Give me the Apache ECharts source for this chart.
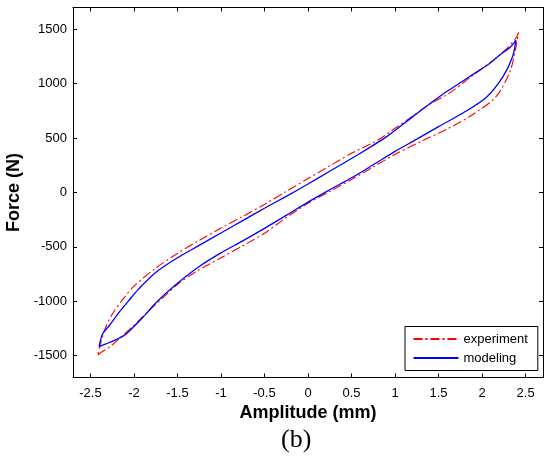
<!DOCTYPE html>
<html>
<head>
<meta charset="utf-8">
<script src="https://cdn.jsdelivr.net/npm/echarts@6/dist/echarts.min.js"></script>
<style>
html,body{margin:0;padding:0;background:#fff;}
#chart{width:544px;height:463px;}
</style>
</head>
<body>
<div id="chart"></div>
<script>
// Tick labels
const xTicks = [-2.5, -2, -1.5, -1, -0.5, 0, 0.5, 1, 1.5, 2, 2.5];
const yTicks = [-1500, -1000, -500, 0, 500, 1000, 1500];
const seriesNames = ['experiment', 'modeling'];

// Experiment loop: upper branch (right tip -> left tip), lower branch (left tip -> right tip)
const expUpper = [
  [2.42,1470],[2.39,1420],[2.30,1335],[2.15,1230],[1.86,1055],[1.60,900],[1.40,815],
  [1.20,700],[1.00,590],[0.80,480],[0.50,360],[0.25,245],[0,128],[-0.25,10],[-0.50,-110],
  [-0.75,-220],[-1.00,-327],[-1.25,-440],[-1.50,-560],[-1.75,-695],[-2.00,-860],
  [-2.13,-985],[-2.25,-1120],[-2.33,-1250],[-2.38,-1380],[-2.42,-1499]
];
const expLower = [
  [-2.42,-1499],[-2.38,-1470],[-2.28,-1420],[-2.15,-1330],[-2.00,-1220],[-1.82,-1080],
  [-1.65,-955],[-1.50,-845],[-1.25,-710],[-1.00,-600],[-0.75,-490],[-0.50,-375],
  [-0.25,-230],[0,-100],[0.25,10],[0.50,120],[0.75,235],[1.00,350],[1.30,470],
  [1.59,580],[1.89,715],[2.16,880],[2.32,1110],[2.38,1300],[2.42,1470]
];

// Modeling loop
const modelUpper = [
  [2.39,1400],[2.33,1340],[2.20,1262],[2.09,1187],[1.85,1062],[1.59,925],[1.40,815],
  [1.20,695],[0.90,511],[0.50,312],[0.25,195],[0,78],[-0.25,-35],[-0.50,-145],
  [-0.75,-258],[-1.00,-372],[-1.25,-486],[-1.50,-600],[-1.75,-735],[-1.95,-890],
  [-2.06,-994],[-2.18,-1110],[-2.28,-1220],[-2.36,-1300],[-2.40,-1416]
];
const modelLower = [
  [-2.40,-1416],[-2.32,-1391],[-2.20,-1350],[-2.09,-1300],[-1.86,-1115],[-1.75,-1015],
  [-1.50,-835],[-1.25,-680],[-1.00,-555],[-0.75,-445],[-0.50,-330],[-0.25,-210],
  [0,-88],[0.25,25],[0.50,135],[0.75,255],[1.00,378],[1.25,490],[1.50,605],
  [1.78,730],[2.05,875],[2.24,1064],[2.35,1248],[2.39,1400]
];

const chart = echarts.init(document.getElementById('chart'), null, {renderer: 'canvas'});

const labelFont = {fontFamily: 'Arial, "Liberation Sans", sans-serif', fontSize: 13, color: '#000'};
const axisLineStyle = {lineStyle: {color: '#000', width: 1}};
const plain = v => String(v);

function xAx(pos, showLabel, name) {
  return {
    type: 'value', position: pos, min: -2.7, max: 2.7,
    name: name || '', nameLocation: 'middle', nameGap: 26,
    nameTextStyle: {fontFamily: 'Arial, "Liberation Sans", sans-serif', fontSize: 18, fontWeight: 'bold', color: '#000'},
    axisLine: Object.assign({show: true, onZero: false}, axisLineStyle),
    axisTick: {show: true, inside: true, length: 4, customValues: xTicks, lineStyle: {color: '#000'}},
    axisLabel: Object.assign({show: showLabel, margin: 9, customValues: xTicks, formatter: plain}, labelFont),
    splitLine: {show: false}
  };
}
function yAx(pos, showLabel, name) {
  return {
    type: 'value', position: pos, min: -1700, max: 1700,
    name: name || '', nameLocation: 'middle', nameGap: 40,
    nameTextStyle: {fontFamily: 'Arial, "Liberation Sans", sans-serif', fontSize: 18, fontWeight: 'bold', color: '#000'},
    axisLine: Object.assign({show: true, onZero: false}, axisLineStyle),
    axisTick: {show: true, inside: true, length: 4, customValues: yTicks, lineStyle: {color: '#000'}},
    axisLabel: Object.assign({show: showLabel, margin: 6, customValues: yTicks, formatter: plain}, labelFont),
    splitLine: {show: false}
  };
}

chart.setOption({
  animation: false,
  backgroundColor: '#fff',
  grid: {left: 73, right: 1, top: 7.5, height: 370, containLabel: false, outerBoundsMode: 'none'},
  xAxis: [xAx('bottom', true, 'Amplitude (mm)'), xAx('top', false)],
  yAxis: [yAx('left', true, 'Force (N)'), yAx('right', false)],
  legend: {
    orient: 'vertical', left: 405, top: 326.5,
    padding: [6, 10, 6, 7.5], itemGap: 6, itemWidth: 45, itemHeight: 14,
    borderColor: '#000', borderWidth: 1, backgroundColor: '#fff',
    itemStyle: {opacity: 0},
    textStyle: {fontFamily: 'Arial, "Liberation Sans", sans-serif', fontSize: 13, color: '#000'},
    data: seriesNames
  },
  series: [
    {
      name: seriesNames[0], type: 'line', xAxisIndex: 0, yAxisIndex: 0,
      data: expUpper.concat(expLower), symbol: 'none', smooth: 0.3,
      lineStyle: {color: '#ff0000', width: 1.1, type: [9, 3, 2, 3]},
      itemStyle: {color: '#ff0000'}, z: 2
    },
    {
      name: seriesNames[1], type: 'line', xAxisIndex: 0, yAxisIndex: 0,
      data: modelUpper.concat(modelLower), symbol: 'none', smooth: 0.3,
      lineStyle: {color: '#0000ff', width: 1.3, type: 'solid'},
      itemStyle: {color: '#0000ff'}, z: 3
    }
  ],
  graphic: [{
    type: 'text', left: 281, top: 427,
    style: {text: '(b)', fontFamily: '"Liberation Serif", "Times New Roman", serif', fontSize: 26, fill: '#000'}
  }]
});
</script>
</body>
</html>
